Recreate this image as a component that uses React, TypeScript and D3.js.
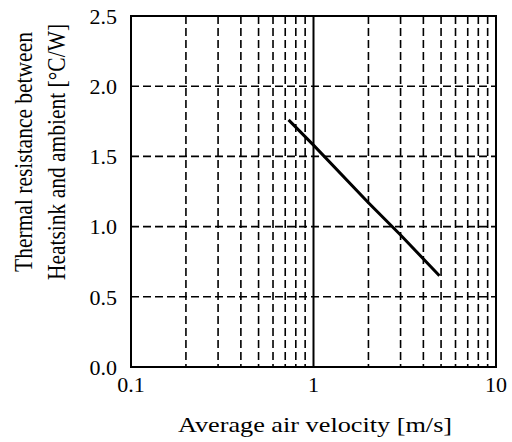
import React from "react";
import * as d3 from "d3";

const velocity = [0.73, 1, 2, 3, 4.9];
const resistance = [1.76, 1.58, 1.17, 0.94, 0.65];
const yTicks = [0, 0.5, 1.0, 1.5, 2.0, 2.5];
const xTicks = [0.1, 1, 10];
const xMinor = [0.2, 0.3, 0.4, 0.5, 0.6, 0.7, 0.8, 0.9, 2, 3, 4, 5, 6, 7, 8, 9];

const W = 512, H = 442;
const L = 131, R = 496, T = 16, B = 367;
const font = "'Liberation Serif', 'Times New Roman', serif";

export default function App() {
  const x = d3.scaleLog().domain([0.1, 10]).range([L, R]);
  const y = d3.scaleLinear().domain([0, 2.5]).range([B, T]);
  const line = d3.line<number>().x((_, i) => x(velocity[i])).y((d) => y(d));
  return (
    <svg width={W} height={H} style={{ position: "absolute", left: 0, top: 0 }}>
      <rect width={W} height={H} fill="#fff" />
      {xMinor.map((v) => (
        <line key={"xm" + v} x1={x(v)} x2={x(v)} y1={T} y2={B} stroke="#000" strokeWidth={1.6} strokeDasharray="8,4" />
      ))}
      {yTicks.slice(1, -1).map((v) => (
        <line key={"yg" + v} x1={L} x2={R} y1={y(v)} y2={y(v)} stroke="#000" strokeWidth={1.6} strokeDasharray="8,4" />
      ))}
      <line x1={x(1)} x2={x(1)} y1={T} y2={B} stroke="#000" strokeWidth={2} />
      <rect x={L} y={T} width={R - L} height={B - T} fill="none" stroke="#000" strokeWidth={2} />
      <path d={line(resistance) || ""} fill="none" stroke="#000" strokeWidth={3} />
      {yTicks.map((v) => (
        <text key={"yt" + v} x={117} y={y(v)} dy="0.35em" textAnchor="end" fontFamily={font} fontSize={22}>
          {v.toFixed(1)}
        </text>
      ))}
      {xTicks.map((v) => (
        <text key={"xt" + v} x={x(v)} y={392} textAnchor="middle" fontFamily={font} fontSize={22}>
          {String(v)}
        </text>
      ))}
      <g transform="translate(315,432) scale(1.25,1)">
        <text x={0} y={0} textAnchor="middle" fontFamily={font} fontSize={21}>
          Average air velocity [m/s]
        </text>
      </g>
      <g transform="translate(32,152) scale(1.2,1) rotate(-90)">
        <text x={0} y={0} textAnchor="middle" fontFamily={font} fontSize={21.5}>
          Thermal resistance between
        </text>
        <text x={0} y={27.5} textAnchor="middle" fontFamily={font} fontSize={21.5}>
          Heatsink and ambient [°C/W]
        </text>
      </g>
    </svg>
  );
}
